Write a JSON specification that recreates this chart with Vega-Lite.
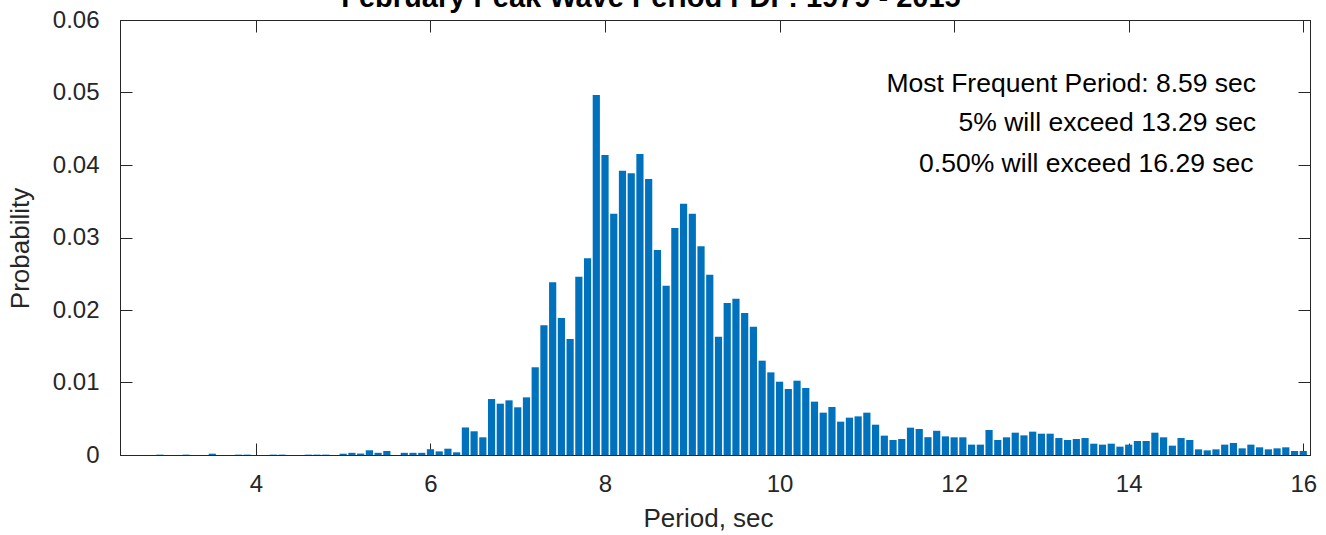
{
  "$schema": "https://vega.github.io/schema/vega-lite/v6.json",
  "width": 1190,
  "height": 435,
  "autosize": {"type": "none"},
  "padding": {"left": 120, "top": 20, "right": 16, "bottom": 80},
  "background": "white",
  "config": {
    "view": {"stroke": "#262626", "strokeWidth": 1},
    "font": "Liberation Sans"
  },
  "title": {
    "text": "February Peak Wave Period PDF: 1979 - 2015",
    "font": "Liberation Sans",
    "fontSize": 29,
    "fontWeight": "bold",
    "color": "#000000",
    "baseline": "alphabetic",
    "anchor": "middle",
    "frame": "group",
    "offset": 4,
    "dy": 32,
    "dx": -64
  },
  "datasets": {
    "pdf": [
      {"period": 2.9, "probability": 0.00005},
      {"period": 3.2, "probability": 0.00005},
      {"period": 3.5, "probability": 0.00018},
      {"period": 3.8, "probability": 0.00005},
      {"period": 3.9, "probability": 0.00005},
      {"period": 4.2, "probability": 0.00005},
      {"period": 4.3, "probability": 0.00005},
      {"period": 4.6, "probability": 0.00005},
      {"period": 4.7, "probability": 0.00005},
      {"period": 4.8, "probability": 0.00005},
      {"period": 5.0, "probability": 0.00018},
      {"period": 5.1, "probability": 0.0003},
      {"period": 5.2, "probability": 0.0002},
      {"period": 5.3, "probability": 0.00065},
      {"period": 5.4, "probability": 0.0003},
      {"period": 5.5, "probability": 0.00055},
      {"period": 5.7, "probability": 0.0003},
      {"period": 5.8, "probability": 0.0003},
      {"period": 5.9, "probability": 0.0003},
      {"period": 6.0, "probability": 0.0008},
      {"period": 6.1, "probability": 0.0005},
      {"period": 6.2, "probability": 0.00087},
      {"period": 6.3, "probability": 0.00037},
      {"period": 6.4, "probability": 0.0038},
      {"period": 6.5, "probability": 0.00327},
      {"period": 6.6, "probability": 0.00244},
      {"period": 6.7, "probability": 0.00772},
      {"period": 6.8, "probability": 0.00708},
      {"period": 6.9, "probability": 0.00754},
      {"period": 7.0, "probability": 0.00658},
      {"period": 7.1, "probability": 0.00795},
      {"period": 7.2, "probability": 0.0121},
      {"period": 7.3, "probability": 0.01789},
      {"period": 7.4, "probability": 0.02382},
      {"period": 7.5, "probability": 0.0189},
      {"period": 7.6, "probability": 0.016},
      {"period": 7.7, "probability": 0.0246},
      {"period": 7.8, "probability": 0.02713},
      {"period": 7.9, "probability": 0.04966},
      {"period": 8.0, "probability": 0.04138},
      {"period": 8.1, "probability": 0.03329},
      {"period": 8.2, "probability": 0.03922},
      {"period": 8.3, "probability": 0.03885},
      {"period": 8.4, "probability": 0.04152},
      {"period": 8.5, "probability": 0.03807},
      {"period": 8.6, "probability": 0.02828},
      {"period": 8.7, "probability": 0.02336},
      {"period": 8.8, "probability": 0.03131},
      {"period": 8.9, "probability": 0.03467},
      {"period": 9.0, "probability": 0.03329},
      {"period": 9.1, "probability": 0.02878},
      {"period": 9.2, "probability": 0.02487},
      {"period": 9.3, "probability": 0.01632},
      {"period": 9.4, "probability": 0.02097},
      {"period": 9.5, "probability": 0.02156},
      {"period": 9.6, "probability": 0.01959},
      {"period": 9.7, "probability": 0.01768},
      {"period": 9.8, "probability": 0.01301},
      {"period": 9.9, "probability": 0.0114},
      {"period": 10.0, "probability": 0.01011},
      {"period": 10.1, "probability": 0.0091},
      {"period": 10.2, "probability": 0.01025},
      {"period": 10.3, "probability": 0.00924},
      {"period": 10.4, "probability": 0.00736},
      {"period": 10.5, "probability": 0.00584},
      {"period": 10.6, "probability": 0.00662},
      {"period": 10.7, "probability": 0.0046},
      {"period": 10.8, "probability": 0.00515},
      {"period": 10.9, "probability": 0.00533},
      {"period": 11.0, "probability": 0.00584},
      {"period": 11.1, "probability": 0.00418},
      {"period": 11.2, "probability": 0.00267},
      {"period": 11.3, "probability": 0.00207},
      {"period": 11.4, "probability": 0.00221},
      {"period": 11.5, "probability": 0.00377},
      {"period": 11.6, "probability": 0.00359},
      {"period": 11.7, "probability": 0.00246},
      {"period": 11.8, "probability": 0.00334},
      {"period": 11.9, "probability": 0.00257},
      {"period": 12.0, "probability": 0.00244},
      {"period": 12.1, "probability": 0.00244},
      {"period": 12.2, "probability": 0.00143},
      {"period": 12.3, "probability": 0.00143},
      {"period": 12.4, "probability": 0.00345},
      {"period": 12.5, "probability": 0.00207},
      {"period": 12.6, "probability": 0.00244},
      {"period": 12.7, "probability": 0.00308},
      {"period": 12.8, "probability": 0.00271},
      {"period": 12.9, "probability": 0.00322},
      {"period": 13.0, "probability": 0.00294},
      {"period": 13.1, "probability": 0.00294},
      {"period": 13.2, "probability": 0.00234},
      {"period": 13.3, "probability": 0.00207},
      {"period": 13.4, "probability": 0.00221},
      {"period": 13.5, "probability": 0.00234},
      {"period": 13.6, "probability": 0.00156},
      {"period": 13.7, "probability": 0.00143},
      {"period": 13.8, "probability": 0.00156},
      {"period": 13.9, "probability": 0.00115},
      {"period": 14.0, "probability": 0.00143},
      {"period": 14.1, "probability": 0.00193},
      {"period": 14.2, "probability": 0.00193},
      {"period": 14.3, "probability": 0.00308},
      {"period": 14.4, "probability": 0.00244},
      {"period": 14.5, "probability": 0.00129},
      {"period": 14.6, "probability": 0.00234},
      {"period": 14.7, "probability": 0.00207},
      {"period": 14.8, "probability": 0.00078},
      {"period": 14.9, "probability": 0.00064},
      {"period": 15.0, "probability": 0.00078},
      {"period": 15.1, "probability": 0.00143},
      {"period": 15.2, "probability": 0.00166},
      {"period": 15.3, "probability": 0.00092},
      {"period": 15.4, "probability": 0.00143},
      {"period": 15.5, "probability": 0.00106},
      {"period": 15.6, "probability": 0.00078},
      {"period": 15.7, "probability": 0.00092},
      {"period": 15.8, "probability": 0.00106},
      {"period": 15.9, "probability": 0.00055},
      {"period": 16.0, "probability": 0.00055}
    ],
    "notes": [
      {"label": "Most Frequent Period: 8.59 sec", "px": 15.46, "py": 0.0501},
      {"label": "5% will exceed 13.29 sec", "px": 15.46, "py": 0.0447},
      {"label": "0.50% will exceed 16.29 sec", "px": 15.43, "py": 0.0391}
    ]
  },
  "layer": [
    {
      "data": {"name": "pdf"},
      "mark": {"type": "bar", "width": 7.2, "color": "#0072BD", "clip": true},
      "encoding": {
        "x": {
          "field": "period", "type": "quantitative",
          "scale": {"domain": [2.5, 16.02], "nice": false, "zero": false},
          "axis": {
            "orient": "bottom",
            "values": [4, 6, 8, 10, 12, 14, 16],
            "grid": false,
            "tickSize": -12,
            "tickColor": "#262626",
            "domainColor": "#262626",
            "labelFont": "Liberation Sans",
            "labelFontSize": 24,
            "labelColor": "#262626",
            "labelPadding": 29,
            "title": "Period, sec",
            "titleFont": "Liberation Sans",
            "titleFontSize": 26,
            "titleFontWeight": "normal",
            "titleColor": "#262626",
            "titleBaseline": "alphabetic",
            "titleX": 588,
            "titleY": 71
          }
        },
        "y": {
          "field": "probability", "type": "quantitative",
          "scale": {"domain": [0, 0.06], "nice": false},
          "axis": {
            "orient": "left",
            "values": [0, 0.01, 0.02, 0.03, 0.04, 0.05, 0.06],
            "format": ".2~f",
            "grid": false,
            "tickSize": -12,
            "tickColor": "#262626",
            "domainColor": "#262626",
            "labelFont": "Liberation Sans",
            "labelFontSize": 24,
            "labelColor": "#262626",
            "labelPadding": 33,
            "title": "Probability",
            "titleFont": "Liberation Sans",
            "titleFontSize": 26,
            "titleFontWeight": "normal",
            "titleColor": "#262626",
            "titleBaseline": "alphabetic",
            "titleAngle": 270,
            "titleAlign": "center",
            "titleX": -92,
            "titleY": 228
          }
        }
      }
    },
    {
      "data": {"name": "pdf"},
      "mark": {"type": "bar", "width": 7.2, "opacity": 0},
      "encoding": {
        "x": {
          "field": "period", "type": "quantitative",
          "scale": {"domain": [2.5, 16.02], "nice": false, "zero": false},
          "axis": {
            "orient": "top",
            "values": [4, 6, 8, 10, 12, 14, 16],
            "grid": false,
            "labels": false,
            "title": null,
            "tickSize": -12,
            "tickColor": "#262626",
            "domainColor": "#262626"
          }
        },
        "y": {
          "field": "probability", "type": "quantitative",
          "scale": {"domain": [0, 0.06], "nice": false},
          "axis": {
            "orient": "right",
            "values": [0, 0.01, 0.02, 0.03, 0.04, 0.05, 0.06],
            "grid": false,
            "labels": false,
            "title": null,
            "tickSize": -12,
            "tickColor": "#262626",
            "domainColor": "#262626"
          }
        }
      }
    },
    {
      "data": {"name": "notes"},
      "mark": {"type": "text", "align": "right", "baseline": "alphabetic", "font": "Liberation Sans", "fontSize": 26.5, "color": "#000000"},
      "encoding": {
        "text": {"field": "label", "type": "nominal"},
        "x": {"field": "px", "type": "quantitative", "axis": null},
        "y": {"field": "py", "type": "quantitative", "axis": null}
      }
    }
  ],
  "resolve": {"axis": {"x": "independent", "y": "independent"}}
}
